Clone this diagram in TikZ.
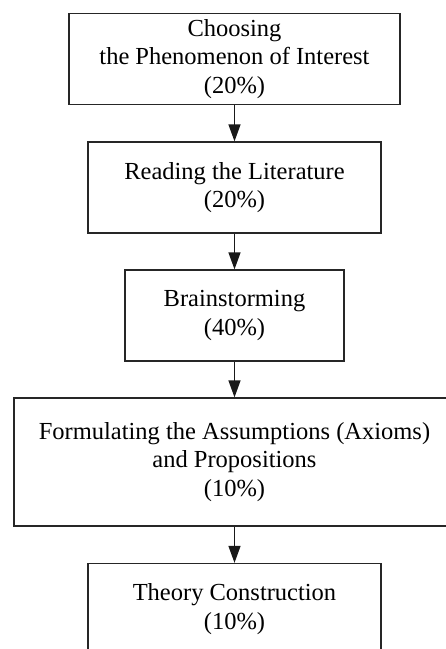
\documentclass[tikz,border=0pt]{standalone}
\usepackage{fontspec}
\setmainfont{Liberation Serif}
\usetikzlibrary{arrows.meta}
\tikzset{
  stagebox/.style={draw=black!85, line width=1.3pt, rectangle, align=center, inner sep=0pt,
    font=\fontsize{24.5}{28.6}\selectfont},
  flowarrow/.style={draw=black!90, line width=1.3pt, -{Triangle[width=12pt,length=17pt]}}
}
\begin{document}
\begin{tikzpicture}[x=1pt,y=-1pt]
\useasboundingbox (0,0) rectangle (446,649);
\clip (0,0) rectangle (446,649);
\fill[white] (0,0) rectangle (446,649);
\node[stagebox, minimum width=331pt, minimum height=91pt] (n1) at (234.5,59)
  {Choosing\\the Phenomenon of Interest\\(20\%)};
\node[stagebox, minimum width=293pt, minimum height=91pt] (n2) at (234.5,187.5)
  {Reading the Literature\\(20\%)};
\node[stagebox, minimum width=219pt, minimum height=91pt] (n3) at (234.5,315.5)
  {Brainstorming\\(40\%)};
\node[stagebox, minimum width=441pt, minimum height=128pt] (n4) at (234.5,462)
  {Formulating the Assumptions (Axioms)\\and Propositions\\(10\%)};
\node[stagebox, minimum width=293pt, minimum height=91pt] (n5) at (234.5,609)
  {Theory Construction\\(10\%)};
\draw[flowarrow] (n1) -- (n2);
\draw[flowarrow] (n2) -- (n3);
\draw[flowarrow] (n3) -- (n4);
\draw[flowarrow] (n4) -- (n5);
\end{tikzpicture}
\end{document}
